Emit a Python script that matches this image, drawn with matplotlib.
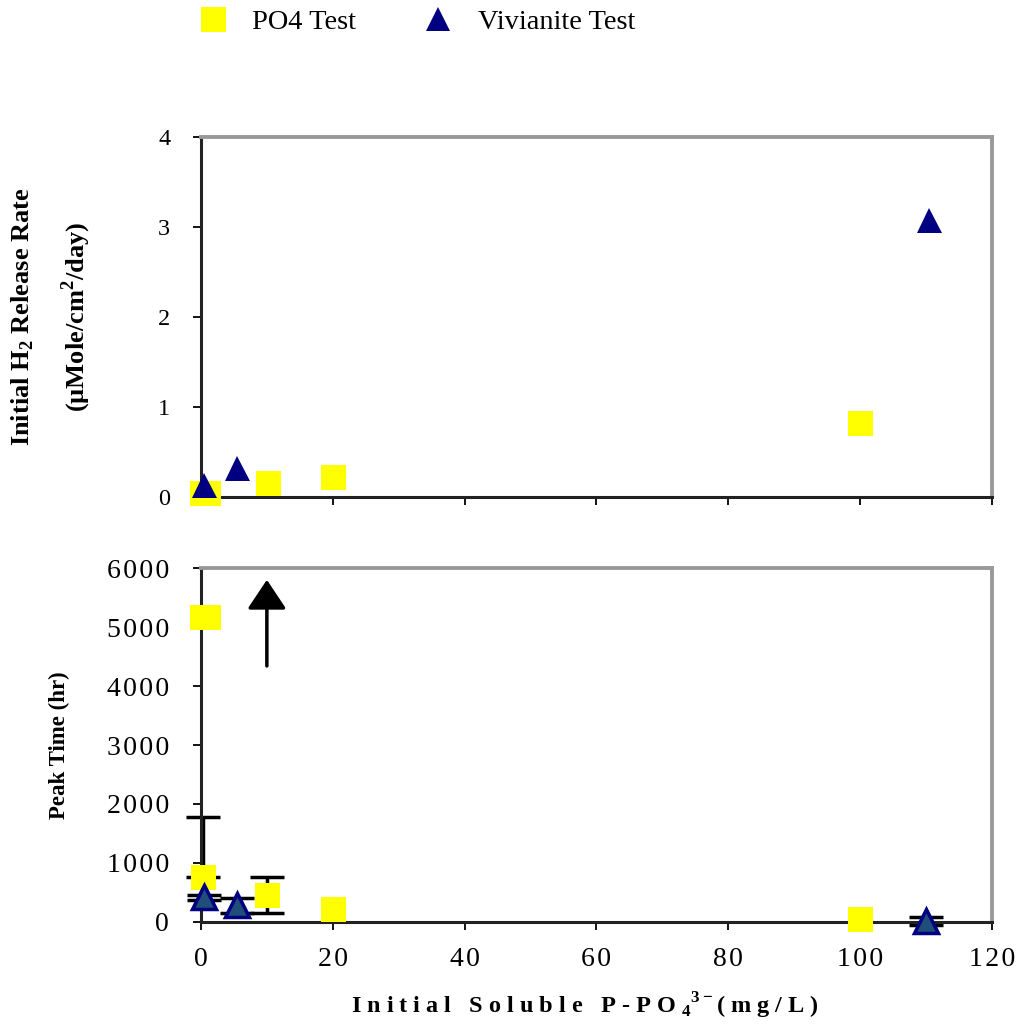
import numpy as np
import matplotlib
matplotlib.use("Agg")
import matplotlib.pyplot as plt
from matplotlib.lines import Line2D
from matplotlib.ticker import FuncFormatter

plt.rcParams['font.family'] = ['Liberation Serif', 'DejaVu Serif']
plt.rcParams['mathtext.fontset'] = 'custom'
plt.rcParams['mathtext.rm'] = 'Liberation Serif'
plt.rcParams['mathtext.bf'] = 'Liberation Serif:bold'

# --- dati: pannello superiore (velocita' iniziale di rilascio H2) ---
po4_rate_x = [0.1, 1.0, 10.2, 20.0, 100.0]
po4_rate_y = [0.05, 0.05, 0.155, 0.22, 0.82]
viv_rate_x = [0.5, 5.5, 110.5]
viv_rate_y = [0.13, 0.32, 3.08]

# --- dati: pannello inferiore (tempo di picco) ---
po4_peak_x = [0.1, 1.0, 0.3, 10.0, 20.0, 100.0]
po4_peak_y = [5170, 5170, 770, 460, 225, 50]
# barre d'errore solo dove visibili (inferiore, superiore)
po4_err_x = [0.3, 10.0]
po4_err_y = [770, 460]
po4_err_low = [0, 300]
po4_err_high = [1010, 300]
viv_peak_x = [0.5, 5.5, 110.0]
viv_peak_y = [420, 280, 20]
viv_peak_err = [40, 130, 70]
arrow_x = 10
arrow_from = 4340
arrow_to = 5800

x_ticks = [0, 20, 40, 60, 80, 100, 120]

YELLOW = '#FFFF00'
NAVY = '#000080'
TEAL = '#1F4E79'

fig = plt.figure(figsize=(10.18, 10.32), dpi=100)
ax1 = fig.add_axes([0.1974, 0.5184, 0.7770, 0.3488])
ax2 = fig.add_axes([0.1974, 0.1066, 0.7770, 0.3430])


def style_axes(ax):
    for s in ['left', 'bottom']:
        ax.spines[s].set_color('#222222')
        ax.spines[s].set_linewidth(2.2)
    for s in ['top', 'right']:
        ax.spines[s].set_color('#999999')
        ax.spines[s].set_linewidth(2.8)
    ax.tick_params(direction='out', length=6, width=1.3, colors='black')
    ax.set_xlim(0, 120)
    ax.set_xticks(x_ticks)


# pannello superiore
style_axes(ax1)
ax1.tick_params(axis='y', labelsize=17.5, pad=16)
ax1.plot(po4_rate_x, po4_rate_y, 's', color=YELLOW, ms=18, mew=0,
         clip_on=False, zorder=3)
ax1.plot(viv_rate_x, viv_rate_y, '^', color=NAVY, ms=18, mew=0,
         clip_on=False, zorder=4)
ax1.set_ylim(0, 4)
ax1.set_yticks([0, 1, 2, 3, 4])
ax1.set_xticklabels([])
ax1.set_ylabel('Initial H$_\\mathbf{2}$ Release Rate\n(µMole/cm$^\\mathbf{2}$/day)',
               fontsize=19, fontweight='bold', linespacing=1.95)
ax1.yaxis.set_label_coords(-0.136, 0.5)

# pannello inferiore
style_axes(ax2)
ax2.tick_params(axis='y', labelsize=20, pad=17)
ax2.tick_params(axis='x', labelsize=20, pad=12)
eb = ax2.errorbar(po4_err_x, po4_err_y, yerr=[po4_err_low, po4_err_high],
                  fmt='none', ecolor='black', elinewidth=2.5, capsize=12,
                  capthick=2.5, zorder=2)
for art in eb.lines[1]:
    art.set_clip_on(False)
ax2.errorbar(viv_peak_x, viv_peak_y, yerr=viv_peak_err, fmt='none',
             ecolor='black', elinewidth=2.5, capsize=12, capthick=2.5,
             zorder=2, clip_on=False)
ax2.plot(po4_peak_x, po4_peak_y, 's', color=YELLOW, ms=18, mew=0,
         clip_on=False, zorder=3)
ax2.plot(viv_peak_x, viv_peak_y, '^', mfc=TEAL, mec=NAVY, ms=17, mew=2.5,
         clip_on=False, zorder=4)
ax2.annotate('', xy=(arrow_x, arrow_to), xytext=(arrow_x, arrow_from),
             arrowprops=dict(arrowstyle='-|>,head_length=0.6,head_width=0.4',
                             mutation_scale=30, color='black', lw=2.5,
                             shrinkA=0, shrinkB=0))
ax2.set_ylim(0, 6000)
ax2.set_yticks(np.arange(0, 6001, 1000))

spaced = FuncFormatter(lambda v, p: '\u200a'.join(str(int(v))))
ax2.yaxis.set_major_formatter(spaced)
ax2.xaxis.set_major_formatter(spaced)
ax2.set_ylabel('Peak Time (hr)', fontsize=16.5, fontweight='bold')
ax2.yaxis.set_label_coords(-0.166, 0.5)
ax2.set_xlabel('I n i t i a l   S o l u b l e   P - P O $_\\mathbf{4}$$^\\mathbf{3-}$( m g / L )',
               fontsize=17.5, fontweight='bold')
ax2.xaxis.set_label_coords(0.485, -0.193)

# legenda
handles = [
    Line2D([], [], ls='none', marker='s', color=YELLOW, ms=18, mew=0),
    Line2D([], [], ls='none', marker='^', color=NAVY, ms=17, mew=0),
]
fig.legend(handles, ['PO4 Test', 'Vivianite Test'], loc='center left',
           bbox_to_anchor=(199 / 1018, 1 - 22 / 1032), ncol=2, frameon=False,
           fontsize=20.4, handlelength=1.0, handletextpad=0.88,
           columnspacing=2.4, borderpad=0, borderaxespad=0)

fig.savefig('out.png', dpi=100)
